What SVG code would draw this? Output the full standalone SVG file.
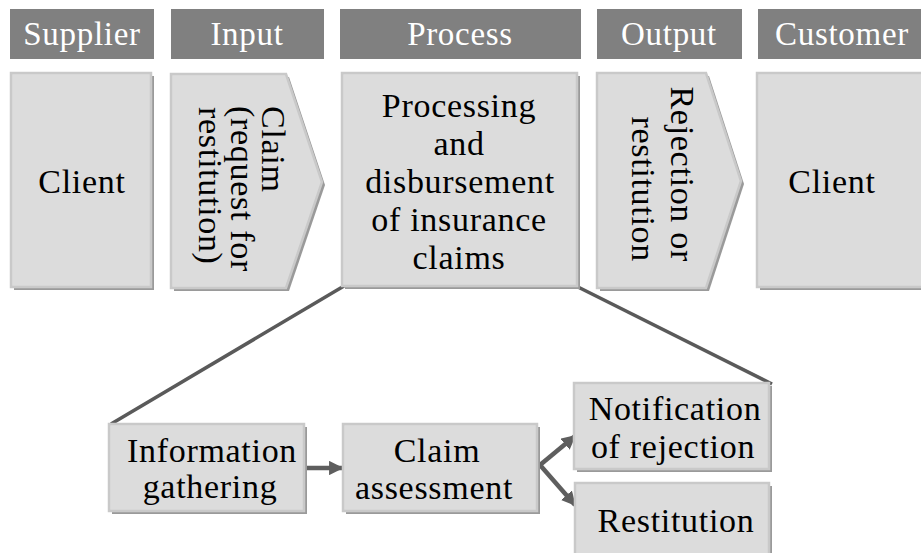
<svg xmlns="http://www.w3.org/2000/svg" width="921" height="553" viewBox="0 0 921 553">
  <style>
    text { font-family: "Liberation Serif", "Times New Roman", serif; font-size: 34px; letter-spacing: 0.7px; fill: #000; }
    .hdr rect { fill: #808080; }
    .hdr text { fill: #fff; font-size: 33px; text-anchor: middle; }
    .shadow { fill: #9a9a9a; }
    .box { fill: #dcdcdc; stroke: #c9c9c9; stroke-width: 2.5; }
    .mid { text-anchor: middle; }
    .link { stroke: #5a5a5a; stroke-width: 3.5; fill: none; }
    .arrow { stroke: #5e5e5e; stroke-width: 4.5; fill: none; marker-end: url(#head); }
  </style>
  <defs>
    <marker id="head" viewBox="0 0 10 10" refX="9" refY="5" markerWidth="3.2" markerHeight="3.2" orient="auto" markerUnits="strokeWidth">
      <path d="M0,0 L10,5 L0,10 Z" fill="#5e5e5e"/>
    </marker>
  </defs>

  <rect width="921" height="553" fill="#fff"/>

  <!-- column headings -->
  <g id="hdr-supplier" class="hdr"><rect x="10" y="9" width="144" height="50"/><text x="82" y="45">Supplier</text></g>
  <g id="hdr-input" class="hdr"><rect x="171" y="9" width="153" height="50"/><text x="247" y="45">Input</text></g>
  <g id="hdr-process" class="hdr"><rect x="340" y="9" width="241" height="50"/><text x="460" y="45">Process</text></g>
  <g id="hdr-output" class="hdr"><rect x="597" y="9" width="145" height="50"/><text x="669" y="45">Output</text></g>
  <g id="hdr-customer" class="hdr"><rect x="758" y="9" width="170" height="50"/><text x="842" y="45">Customer</text></g>

  <!-- connectors -->
  <g id="connectors">
    <line class="link" x1="344" y1="286" x2="111" y2="424"/>
    <line class="link" x1="578" y1="287" x2="772" y2="384"/>
    <line class="arrow" x1="306" y1="468" x2="342" y2="468"/>
    <line class="arrow" x1="540" y1="465" x2="575" y2="436"/>
    <line class="arrow" x1="540" y1="465" x2="575" y2="505"/>
  </g>

  <!-- top row -->
  <g id="supplier-client">
    <rect class="shadow" x="14" y="76" width="140" height="214"/>
    <rect class="box" x="11" y="73" width="140" height="214"/>
    <text class="mid" x="82" y="193">Client</text>
  </g>

  <g id="input-claim">
    <polygon class="shadow" points="174,77 289,77 325,185 289,291 174,291"/>
    <polygon class="box" points="171,74 286,74 322,182 286,288 171,288"/>
    <text transform="translate(262,106) rotate(90)">Claim</text>
    <text transform="translate(231,106) rotate(90)">(request for</text>
    <text transform="translate(199,107) rotate(90)">restitution)</text>
  </g>

  <g id="process">
    <rect class="shadow" x="345" y="76" width="235" height="213"/>
    <rect class="box" x="342" y="73" width="235" height="213"/>
    <text class="mid" x="459" y="117">Processing</text>
    <text class="mid" x="459" y="155">and</text>
    <text class="mid" x="460" y="193">disbursement</text>
    <text class="mid" x="459" y="231">of insurance</text>
    <text class="mid" x="459" y="269">claims</text>
  </g>

  <g id="output-result">
    <polygon class="shadow" points="600,76 709,76 744,184 709,291 600,291"/>
    <polygon class="box" points="597,73 706,73 741,181 706,288 597,288"/>
    <text transform="translate(671,262) rotate(90)" text-anchor="end">Rejection or</text>
    <text transform="translate(632,262) rotate(90)" text-anchor="end">restitution</text>
  </g>

  <g id="customer-client">
    <rect class="shadow" x="760" y="76" width="170" height="214"/>
    <rect class="box" x="757" y="73" width="170" height="214"/>
    <text class="mid" x="832" y="193">Client</text>
  </g>

  <!-- process breakdown -->
  <g id="info-gathering">
    <rect class="shadow" x="112" y="427" width="195" height="87"/>
    <rect class="box" x="109" y="424" width="195" height="87"/>
    <text class="mid" x="212" y="462">Information</text>
    <text class="mid" x="210" y="498">gathering</text>
  </g>

  <g id="claim-assessment">
    <rect class="shadow" x="346" y="427" width="194" height="87"/>
    <rect class="box" x="343" y="424" width="194" height="87"/>
    <text class="mid" x="437" y="462">Claim</text>
    <text class="mid" x="434" y="499">assessment</text>
  </g>

  <g id="notification">
    <rect class="shadow" x="577" y="386" width="195" height="86"/>
    <rect class="box" x="574" y="383" width="195" height="86"/>
    <text class="mid" x="675" y="420">Notification</text>
    <text class="mid" x="673" y="458">of rejection</text>
  </g>

  <g id="restitution">
    <rect class="shadow" x="578" y="486" width="194" height="80"/>
    <rect class="box" x="575" y="483" width="194" height="80"/>
    <text class="mid" x="676" y="532">Restitution</text>
  </g>
</svg>
